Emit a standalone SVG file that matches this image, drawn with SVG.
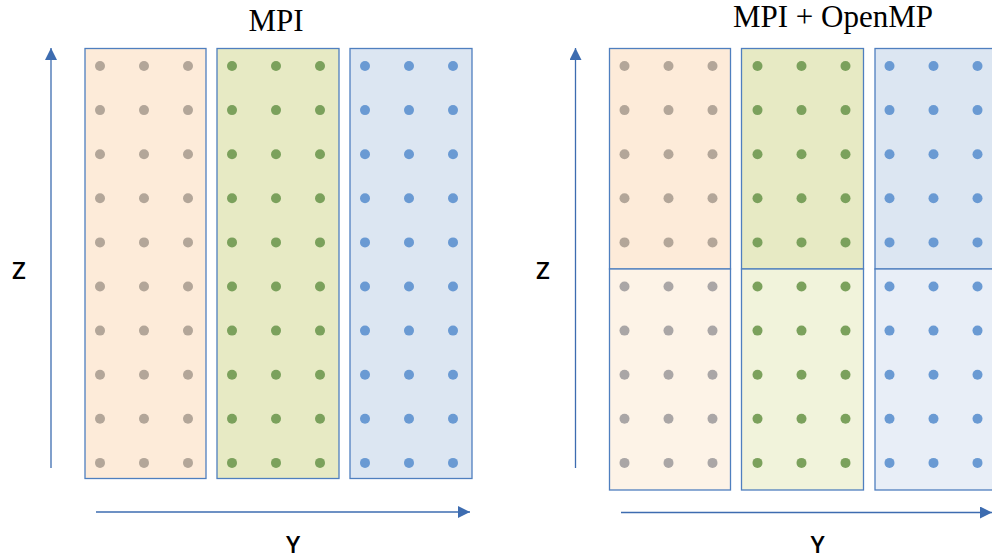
<svg xmlns="http://www.w3.org/2000/svg" width="992" height="560" viewBox="0 0 992 560">
<defs>
<style>
.title{font-family:"Liberation Serif","Times New Roman",serif;font-size:31px;fill:#000;text-anchor:middle}
.axis{font-family:"Open Sans","DejaVu Sans",sans-serif;font-size:24px;font-weight:600;fill:#000;text-anchor:middle}
.box{stroke:#4f7fbf;stroke-width:1.3}
.ax{stroke:#3d6cb0;stroke-width:1.3;fill:none}
.o1{fill:#fdebd9}.o2{fill:#fdf3e7}
.g1{fill:#e7eac4}.g2{fill:#f1f3db}
.b1{fill:#dce6f2}.b2{fill:#e8eef7}
.do{fill:#b3a699}.dg{fill:#7ba15c}.db{fill:#6a9ad3}.dq{fill:#aaa6a6}
</style>
<marker id="ah" viewBox="0 0 12 12" refX="12" refY="6" markerWidth="12" markerHeight="12" markerUnits="userSpaceOnUse" orient="auto">
<path d="M0,0 L12,6 L0,12 Z" fill="#3d6cb0"/>
</marker>
<g id="col3">
<circle cx="0" cy="0" r="5"/><circle cx="44" cy="0" r="5"/><circle cx="88" cy="0" r="5"/>
</g>
<g id="col5">
<use href="#col3" y="0"/><use href="#col3" y="44.1"/><use href="#col3" y="88.2"/><use href="#col3" y="132.3"/><use href="#col3" y="176.4"/>
</g>
</defs>
<rect width="992" height="560" fill="#fff"/>

<text class="title" x="276" y="31">MPI</text>
<text class="title" x="833" y="27">MPI + OpenMP</text>

<g id="connectors">
<line class="ax" x1="51" y1="468" x2="51" y2="48" marker-end="url(#ah)"/>
<line class="ax" x1="96" y1="512" x2="470" y2="512" marker-end="url(#ah)"/>
<line class="ax" x1="575.5" y1="468" x2="575.5" y2="48" marker-end="url(#ah)"/>
<line class="ax" x1="621" y1="512.5" x2="992" y2="512.5" marker-end="url(#ah)"/>
</g>

<g id="left-orange">
<rect class="box o1" x="85" y="48.5" width="121" height="430"/>
<use href="#col5" x="100" y="66" class="do"/><use href="#col5" x="100" y="286.5" class="do"/>
</g>
<g id="left-green">
<rect class="box g1" x="217" y="48.5" width="122" height="430"/>
<use href="#col5" x="232" y="66" class="dg"/><use href="#col5" x="232" y="286.5" class="dg"/>
</g>
<g id="left-blue">
<rect class="box b1" x="350" y="48.5" width="122" height="430"/>
<use href="#col5" x="365" y="66" class="db"/><use href="#col5" x="365" y="286.5" class="db"/>
</g>

<g id="right-orange-top">
<rect class="box o1" x="609.5" y="48.5" width="121" height="220.5"/>
<use href="#col5" x="624.5" y="66" class="do"/>
</g>
<g id="right-orange-bottom">
<rect class="box o2" x="609.5" y="269" width="121" height="221"/>
<use href="#col5" x="624.5" y="286.5" class="dq"/>
</g>
<g id="right-green-top">
<rect class="box g1" x="741.5" y="48.5" width="122" height="220.5"/>
<use href="#col5" x="757.5" y="66" class="dg"/>
</g>
<g id="right-green-bottom">
<rect class="box g2" x="741.5" y="269" width="122" height="221"/>
<use href="#col5" x="757.5" y="286.5" class="dg"/>
</g>
<g id="right-blue-top">
<rect class="box b1" x="875" y="48.5" width="122" height="220.5"/>
<use href="#col5" x="889.5" y="66" class="db"/>
</g>
<g id="right-blue-bottom">
<rect class="box b2" x="875" y="269" width="122" height="221"/>
<use href="#col5" x="889.5" y="286.5" class="db"/>
</g>

<text class="axis" x="19" y="279">Z</text>
<text class="axis" x="543" y="279">Z</text>
<text class="axis" x="293" y="553">Y</text>
<text class="axis" x="817.5" y="553">Y</text>
</svg>
